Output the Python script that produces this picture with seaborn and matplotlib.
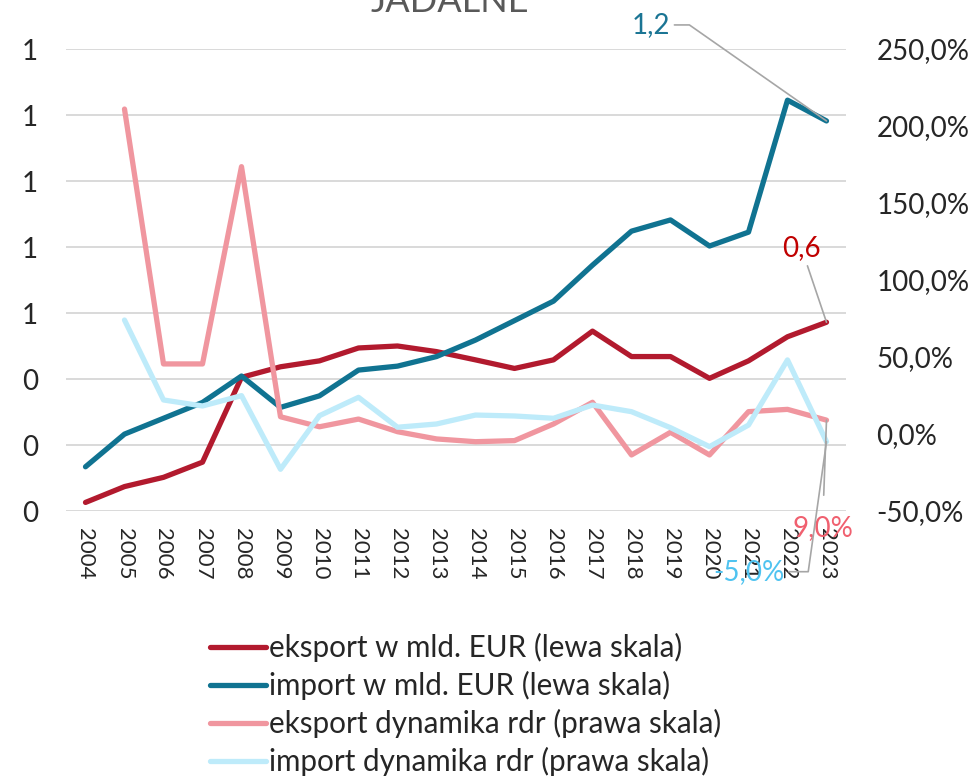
import matplotlib
matplotlib.use('Agg')
import matplotlib.pyplot as plt
import matplotlib.ticker as mticker
import pandas as pd
import seaborn as sns

years = list(range(2004, 2024))
eksport = [0.026, 0.074, 0.102, 0.148, 0.405, 0.437, 0.455, 0.494, 0.500, 0.483,
           0.458, 0.432, 0.458, 0.545, 0.468, 0.468, 0.402, 0.455, 0.528, 0.572]
import_ = [0.134, 0.233, 0.281, 0.329, 0.409, 0.314, 0.349, 0.427, 0.439, 0.468,
           0.518, 0.577, 0.636, 0.745, 0.848, 0.882, 0.803, 0.845, 1.245, 1.182]
eksport_dyn = [None, 211.0, 45.5, 45.5, 173.6, 11.2, 4.7, 9.7, 1.5, -3.2,
               -5.0, -4.3, 6.5, 20.6, -13.6, 1.1, -13.6, 14.5, 16.0, 9.0]
import_dyn = [None, 74.0, 22.1, 18.2, 24.9, -22.9, 11.9, 23.8, 4.4, 6.5,
              12.3, 11.7, 10.2, 18.8, 14.5, 4.1, -8.2, 5.8, 48.1, -5.0]

labels = ['eksport w mld. EUR (lewa skala)', 'import w mld. EUR (lewa skala)',
          'eksport dynamika rdr (prawa skala)', 'import dynamika rdr (prawa skala)']
colors = ['#B21A2E', '#107391', '#F0969F', '#BEEBFA']

sns.set_theme(style='white')
plt.rcParams['font.family'] = ['Lato', 'DejaVu Sans']

df = pd.DataFrame({'x': range(len(years)), 'eksport': eksport, 'import': import_,
                   'eksport_dyn': pd.to_numeric(pd.Series(eksport_dyn)),
                   'import_dyn': pd.to_numeric(pd.Series(import_dyn))})

fig = plt.figure(figsize=(9.76, 7.76), dpi=100)
ax = fig.add_axes([66 / 976, 1 - 511 / 776, 780 / 976, 462 / 776])
ax2 = ax.twinx()

lw = 3.8
sns.lineplot(data=df, x='x', y='eksport', ax=ax, color=colors[0], lw=lw, label=labels[0],
             legend=False, solid_capstyle='round')
sns.lineplot(data=df, x='x', y='import', ax=ax, color=colors[1], lw=lw, label=labels[1],
             legend=False, solid_capstyle='round')
sns.lineplot(data=df, x='x', y='eksport_dyn', ax=ax2, color=colors[2], lw=lw, label=labels[2],
             legend=False, solid_capstyle='round')
sns.lineplot(data=df, x='x', y='import_dyn', ax=ax2, color=colors[3], lw=lw, label=labels[3],
             legend=False, solid_capstyle='round')

ax.set_xlim(-0.5, len(years) - 0.5)
ax.set_ylim(0, 1.4)
ax2.set_ylim(-50, 250)
ax.set_yticks([0, 0.2, 0.4, 0.6, 0.8, 1.0, 1.2, 1.4])
ax2.set_yticks(range(-50, 251, 50))
ax.yaxis.set_major_formatter(mticker.FuncFormatter(lambda v, p: f'{v:.0f}'))
ax2.yaxis.set_major_formatter(mticker.FuncFormatter(lambda v, p: f'{v:.1f}%'.replace('.', ',')))
ax.set_xticks(range(len(years)))
ax.set_xticklabels([str(y) for y in years], rotation=-90, fontsize=16)
ax.tick_params(axis='x', length=0, pad=12)
ax.tick_params(axis='y', length=0, pad=20, labelsize=20)
ax2.tick_params(axis='y', length=0, pad=22, labelsize=20)
ax.set_xlabel('')
ax.set_ylabel('')
ax2.set_ylabel('')
ax.grid(axis='y', color='#D9D9D9', lw=1.4)
ax.grid(axis='x', visible=False)
ax2.grid(False)
for a in (ax, ax2):
    for s in a.spines.values():
        s.set_visible(False)

fig.text(450 / 976, 1 - 12 / 776, 'JADALNE', ha='center', va='baseline',
         fontsize=26, color='#595959')

last = len(years) - 1
lead = dict(arrowstyle='-', color='#A6A6A6', lw=1.2, shrinkA=1, shrinkB=0)
ax.annotate('1,2', xy=(last, import_[-1]), xytext=(-176, 96), textcoords='offset pixels',
            ha='center', va='center', fontsize=20, color='#1B7594',
            arrowprops=dict(lead, connectionstyle='angle,angleA=0,angleB=145,rad=0'))
ax.annotate('0,6', xy=(last, eksport[-1]), xytext=(-25, 74), textcoords='offset pixels',
            ha='center', va='center', fontsize=20, color='#C00000', arrowprops=lead)
ax2.annotate('9,0%', xy=(last, eksport_dyn[-1]), xytext=(-4, -108), textcoords='offset pixels',
             ha='center', va='center', fontsize=20, color='#F0606F',
             arrowprops=dict(lead, shrinkA=12))
ax2.annotate('-5,0%', xy=(last, import_dyn[-1]), xytext=(-78, -130), textcoords='offset pixels',
             ha='center', va='center', fontsize=20, color='#4FC3F0',
             arrowprops=dict(lead, connectionstyle='angle,angleA=0,angleB=82,rad=0'))

h1, l1 = ax.get_legend_handles_labels()
h2, l2 = ax2.get_legend_handles_labels()
fig.legend(h1 + h2, l1 + l2, loc='upper left', bbox_to_anchor=(210 / 976, 1 - 633 / 776),
           frameon=False, fontsize=21.3, handlelength=1.9, handletextpad=0.1,
           labelspacing=0.3, borderpad=0, borderaxespad=0)

fig.savefig('out.png', dpi=100)
